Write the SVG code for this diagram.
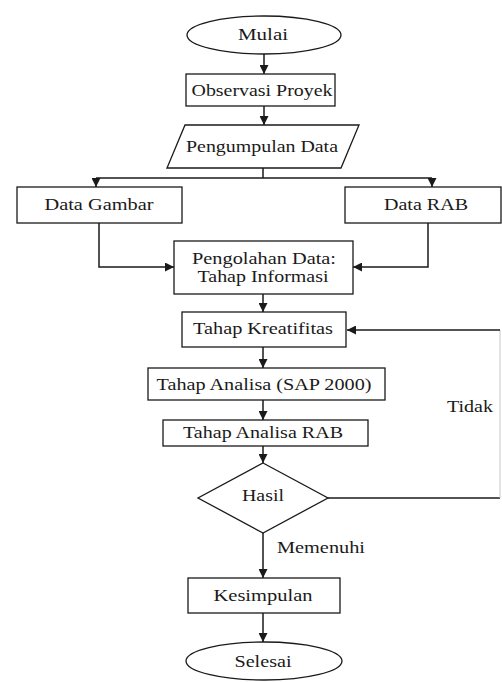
<svg xmlns="http://www.w3.org/2000/svg" width="502" height="682" viewBox="0 0 502 682">
<style>
.shape{fill:#fff;stroke:#1a1a1a;stroke-width:1.3}
.t{font-family:"Liberation Serif","Times New Roman",serif;font-size:17px;fill:#1a1a1a;text-anchor:middle}
.c{fill:none;stroke:#1a1a1a;stroke-width:1.5}
.faint{fill:none;stroke:#c8c8c8;stroke-width:1}
</style>
<defs>
<marker id="ah" viewBox="0 0 10 10" refX="10" refY="5" markerWidth="9" markerHeight="9" markerUnits="userSpaceOnUse" orient="auto">
<path d="M0,0 L10,5 L0,10 z" fill="#1a1a1a"/>
</marker>
</defs>
<rect width="502" height="682" fill="#fff"/>
<g id="connectors">
<path class="c" d="M264,53 V74" marker-end="url(#ah)"/>
<path class="c" d="M264,106 V125" marker-end="url(#ah)"/>
<path class="c" d="M263,168 V178"/>
<path class="c" d="M96,178 H432"/>
<path class="c" d="M96,178 V187" marker-end="url(#ah)"/>
<path class="c" d="M432,178 V187" marker-end="url(#ah)"/>
<path class="c" d="M99,223 V267 H174" marker-end="url(#ah)"/>
<path class="c" d="M428,223 V267 H353" marker-end="url(#ah)"/>
<path class="c" d="M263,294 V312" marker-end="url(#ah)"/>
<path class="c" d="M263,347 V368" marker-end="url(#ah)"/>
<path class="c" d="M263,400 V420" marker-end="url(#ah)"/>
<path class="c" d="M263,446 V463" marker-end="url(#ah)"/>
<path class="c" d="M263,533 V578" marker-end="url(#ah)"/>
<path class="c" d="M263,613 V642" marker-end="url(#ah)"/>
<path class="c" d="M328,498 H500"/>
<path class="faint" d="M500,498 V330"/>
<path class="c" d="M500,330 H347" marker-end="url(#ah)"/>
<text class="t" x="470" y="412" textLength="46" lengthAdjust="spacingAndGlyphs">Tidak</text>
<text class="t" x="321" y="553" textLength="88" lengthAdjust="spacingAndGlyphs">Memenuhi</text>
</g>
<g id="mulai">
<ellipse class="shape" cx="264" cy="35" rx="77" ry="19"/>
<text class="t" x="263" y="40" textLength="50" lengthAdjust="spacingAndGlyphs">Mulai</text>
</g>
<g id="observasi">
<rect class="shape" x="186" y="74" width="149" height="32"/>
<text class="t" x="262" y="96" textLength="141" lengthAdjust="spacingAndGlyphs">Observasi Proyek</text>
</g>
<g id="pengumpulan">
<polygon class="shape" points="185,125 359,125 341,168 167,168"/>
<text class="t" x="262" y="152" textLength="152" lengthAdjust="spacingAndGlyphs">Pengumpulan Data</text>
</g>
<g id="data-gambar">
<rect class="shape" x="17" y="187" width="165" height="36"/>
<text class="t" x="99" y="210" textLength="109" lengthAdjust="spacingAndGlyphs">Data Gambar</text>
</g>
<g id="data-rab">
<rect class="shape" x="345" y="187" width="156" height="36"/>
<text class="t" x="426" y="210" textLength="84" lengthAdjust="spacingAndGlyphs">Data RAB</text>
</g>
<g id="pengolahan">
<rect class="shape" x="174" y="241" width="179" height="53"/>
<text class="t" x="264" y="264" textLength="144" lengthAdjust="spacingAndGlyphs">Pengolahan Data:</text>
<text class="t" x="263" y="282" textLength="131" lengthAdjust="spacingAndGlyphs">Tahap Informasi</text>
</g>
<g id="kreatifitas">
<rect class="shape" x="182" y="312" width="164" height="35"/>
<text class="t" x="263" y="334" textLength="140" lengthAdjust="spacingAndGlyphs">Tahap Kreatifitas</text>
</g>
<g id="analisa-sap">
<rect class="shape" x="148" y="368" width="237" height="32"/>
<text class="t" x="264" y="390" textLength="215" lengthAdjust="spacingAndGlyphs">Tahap Analisa (SAP 2000)</text>
</g>
<g id="analisa-rab">
<rect class="shape" x="163" y="420" width="205" height="26"/>
<text class="t" x="263" y="438" textLength="160" lengthAdjust="spacingAndGlyphs">Tahap Analisa RAB</text>
</g>
<g id="hasil">
<polygon class="shape" points="263,463 328,498 263,533 198,498"/>
<text class="t" x="263" y="501" textLength="42" lengthAdjust="spacingAndGlyphs">Hasil</text>
</g>
<g id="kesimpulan">
<rect class="shape" x="188" y="578" width="152" height="35"/>
<text class="t" x="263" y="601" textLength="99" lengthAdjust="spacingAndGlyphs">Kesimpulan</text>
</g>
<g id="selesai">
<ellipse class="shape" cx="264" cy="661" rx="78" ry="19"/>
<text class="t" x="263" y="667" textLength="57" lengthAdjust="spacingAndGlyphs">Selesai</text>
</g>
</svg>
